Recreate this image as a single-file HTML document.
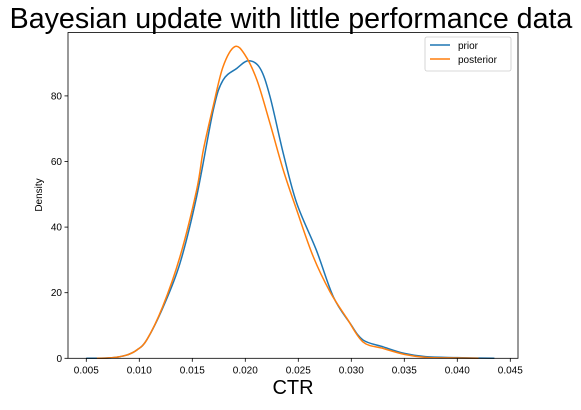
<!DOCTYPE html>
<html><head><meta charset="utf-8"><style>
body{margin:0;background:#fff;width:581px;height:405px;overflow:hidden;font-family:"Liberation Sans",sans-serif}
</style></head><body>
<svg width="581" height="405">
<text x="291" y="28" font-size="28.6" text-anchor="middle">Bayesian update with little performance data</text>
<g id="ax"></g>
</svg>
<script>
const xTicks=[0.005,0.010,0.015,0.020,0.025,0.030,0.035,0.040,0.045];
const yTicks=[0,20,40,60,80];
const priorX=[0.005,0.007,0.008,0.009,0.0098,0.0107,0.01226,0.01384,0.01541,0.01698,0.0179,0.0192,0.0203,0.0214,0.02233,0.02358,0.02485,0.0267,0.0283,0.02988,0.0311,0.033,0.035,0.037,0.040,0.0435];
const priorY=[0,0.1,0.4,1.2,2.6,5.6,15.7,29,49.3,75.7,84.8,88.4,90.7,88.4,79.8,62.5,47.3,33,18.8,10.7,5.6,3.5,1.5,0.5,0.2,0];
const postX=[0.006,0.007,0.008,0.009,0.0098,0.0107,0.0122,0.01384,0.01541,0.01604,0.01698,0.0179,0.0190,0.01997,0.0211,0.02233,0.02358,0.02485,0.02641,0.02799,0.02956,0.0311,0.033,0.035,0.037,0.040,0.042];
const postY=[0,0.1,0.4,1.2,2.6,5.6,15.7,31,51.3,63.5,77,88.9,95,92.5,84.8,71.6,57.4,45.2,31,20.3,12.3,5,3,1.2,0.3,0.1,0];
const L=68,R=518,T=32.5,B=358.3;
const sx=v=>86.3+(v-0.005)/0.005*53;
const sy=v=>B-v*3.28;
const NS="http://www.w3.org/2000/svg";
const g=document.getElementById('ax');
function mk(t,a){const e=document.createElementNS(NS,t);for(const k in a)e.setAttribute(k,a[k]);g.appendChild(e);return e;}
function path(xs,ys){const p=xs.map((x,i)=>[sx(x),sy(ys[i])]);let d=`M${p[0][0]},${p[0][1]}`;
for(let i=0;i<p.length-1;i++){const p0=p[i-1]||p[i],p1=p[i],p2=p[i+1],p3=p[i+2]||p2;
d+=`C${p1[0]+(p2[0]-p0[0])/6},${p1[1]+(p2[1]-p0[1])/6} ${p2[0]-(p3[0]-p1[0])/6},${p2[1]-(p3[1]-p1[1])/6} ${p2[0]},${p2[1]}`;}return d;}
let e=mk('path',{d:path(priorX,priorY),fill:'none',stroke:'#1f77b4','stroke-width':1.5});

e=mk('path',{d:path(postX,postY),fill:'none',stroke:'#ff7f0e','stroke-width':1.5});

e=mk('rect',{x:L,y:T,width:R-L,height:B-T,fill:'none',stroke:'#000','stroke-width':0.8});

xTicks.forEach(v=>{const x=sx(v);
let t=mk('line',{x1:x,x2:x,y1:B,y2:B+3.5,stroke:'#000','stroke-width':0.8});

t=mk('text',{x:x,y:B+15,'font-size':10,'text-anchor':'middle'});t.textContent=v.toFixed(3);
});
yTicks.forEach(v=>{const y=sy(v);
let t=mk('line',{x1:L-3.5,x2:L,y1:y,y2:y,stroke:'#000','stroke-width':0.8});

t=mk('text',{x:L-6,y:y+3.5,'font-size':10,'text-anchor':'end'});t.textContent=v;
});
e=mk('text',{x:293,y:394,'font-size':20,'text-anchor':'middle'});e.textContent='CTR';

e=mk('text',{x:0,y:0,'font-size':10,'text-anchor':'middle',transform:'translate(42,195) rotate(-90)'});e.textContent='Density';

e=mk('rect',{x:425,y:37,width:86,height:34,rx:2,fill:'#fff',stroke:'#ccc','stroke-width':0.8});

[['prior','#1f77b4',49],['posterior','#ff7f0e',63]].forEach(([n,c,y])=>{
let t=mk('line',{x1:430,x2:450,y1:y-4,y2:y-4,stroke:c,'stroke-width':1.5});

t=mk('text',{x:458,y:y,'font-size':10});t.textContent=n;
});
</script>
</body></html>
